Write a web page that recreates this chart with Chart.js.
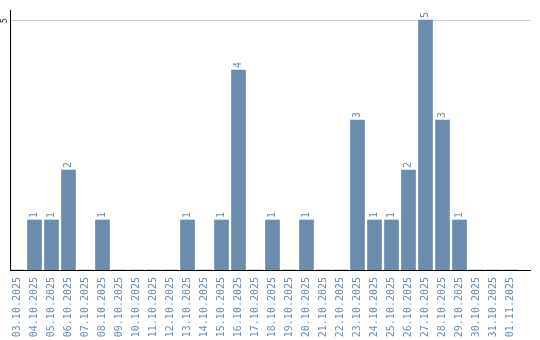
<!DOCTYPE html>
<html lang="en">
<head>
    <meta charset="UTF-8">
    <title>Daily count</title>
    <script src="https://cdn.jsdelivr.net/npm/chart.js@4/dist/chart.umd.min.js"></script>
    <style>
        html, body { margin: 0; padding: 0; background: #fff; }
        #wrap { width: 540px; height: 340px; }
    </style>
</head>
<body>
    <div id="wrap"><canvas id="chart" width="540" height="340"></canvas></div>

    <script>
        const days = [
            '03.10.2025', '04.10.2025', '05.10.2025', '06.10.2025', '07.10.2025',
            '08.10.2025', '09.10.2025', '10.10.2025', '11.10.2025', '12.10.2025',
            '13.10.2025', '14.10.2025', '15.10.2025', '16.10.2025', '17.10.2025',
            '18.10.2025', '19.10.2025', '20.10.2025', '21.10.2025', '22.10.2025',
            '23.10.2025', '24.10.2025', '25.10.2025', '26.10.2025', '27.10.2025',
            '28.10.2025', '29.10.2025', '30.10.2025', '31.10.2025', '01.11.2025'
        ];
        const counts = [0, 1, 1, 2, 0, 1, 0, 0, 0, 0, 1, 0, 1, 4, 0, 1, 0, 1, 0, 0, 3, 1, 1, 2, 5, 3, 1, 0, 0, 0];
        const yTicks = [5];

        const barColor = '#6b8cae';
        const mono = 'DejaVu Sans Mono';

        // grid line, axis lines and the rotated "5" on the left
        const frame = {
            id: 'frame',
            beforeDatasetsDraw(chart) {
                const ctx = chart.ctx;
                const y = chart.scales.y;
                ctx.save();
                ctx.strokeStyle = '#cccccc';
                ctx.lineWidth = 1;
                yTicks.forEach(t => {
                    const py = Math.round(y.getPixelForValue(t)) + 0.5;
                    ctx.beginPath();
                    ctx.moveTo(10, py);
                    ctx.lineTo(530, py);
                    ctx.stroke();

                    ctx.save();
                    ctx.translate(5, py);
                    ctx.rotate(-Math.PI / 2);
                    ctx.fillStyle = '#222';
                    ctx.font = '8px ' + mono;
                    ctx.textAlign = 'center';
                    ctx.textBaseline = 'middle';
                    ctx.fillText(String(t), 0, 0);
                    ctx.restore();
                });
                ctx.restore();
            },
            afterDatasetsDraw(chart) {
                const ctx = chart.ctx;
                const area = chart.chartArea;
                ctx.save();
                ctx.strokeStyle = '#000';
                ctx.lineWidth = 1;
                ctx.beginPath();
                ctx.moveTo(10.5, 10);
                ctx.lineTo(10.5, area.bottom + 0.5);
                ctx.moveTo(10, area.bottom + 0.5);
                ctx.lineTo(531, area.bottom + 0.5);
                ctx.stroke();

                // value labels above bars
                const meta = chart.getDatasetMeta(0);
                ctx.fillStyle = barColor;
                ctx.font = '10px ' + mono;
                ctx.textAlign = 'left';
                ctx.textBaseline = 'middle';
                meta.data.forEach((bar, i) => {
                    if (!counts[i]) return;
                    ctx.save();
                    ctx.translate(bar.x, bar.y - 2);
                    ctx.rotate(-Math.PI / 2);
                    ctx.fillText(String(counts[i]), 0, 0);
                    ctx.restore();
                });
                ctx.restore();
            }
        };

        new Chart(document.getElementById('chart'), {
            type: 'bar',
            data: {
                labels: days,
                datasets: [{
                    data: counts,
                    backgroundColor: barColor,
                    barThickness: 14,
                    borderWidth: 0
                }]
            },
            options: {
                responsive: false,
                animation: false,
                layout: { padding: { left: 9, right: 21, top: 10, bottom: 0 } },
                plugins: { legend: { display: false }, tooltip: { enabled: false } },
                scales: {
                    x: {
                        grid: { display: false, drawTicks: false },
                        border: { display: false },
                        afterFit: scale => { scale.height = 70; },
                        ticks: {
                            autoSkip: false,
                            minRotation: 90,
                            maxRotation: 90,
                            padding: 7,
                            color: barColor,
                            font: { family: mono, size: 10 }
                        }
                    },
                    y: { display: false, min: 0, max: 5.2 }
                }
            },
            plugins: [frame]
        });
    </script>
</body>
</html>
